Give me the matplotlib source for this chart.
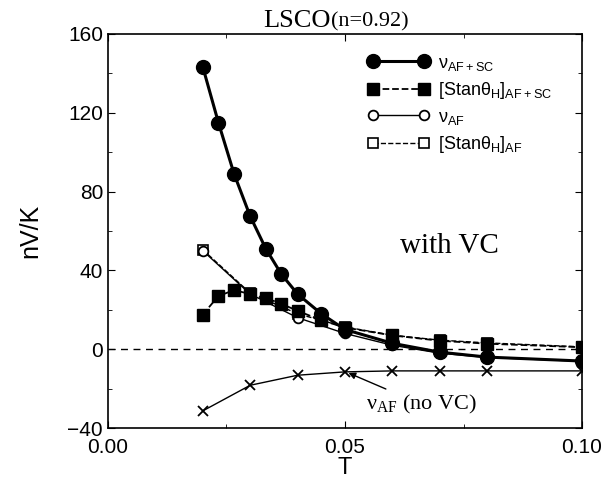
import numpy as np
import matplotlib
matplotlib.use("Agg")
import matplotlib.pyplot as plt
from matplotlib.ticker import MultipleLocator, FormatStrFormatter

plt.rcParams['font.family'] = ['Liberation Sans', 'DejaVu Sans']
plt.rcParams['mathtext.default'] = 'regular'

# data
T_sc = [0.020, 0.0233, 0.0266, 0.030, 0.0333, 0.0366, 0.040, 0.045, 0.05, 0.06, 0.07, 0.08, 0.10]
nu_af_sc = [143.3, 115, 89, 67.5, 51, 38, 28, 18, 10, 3, -1.5, -4, -6]
stan_af_sc = [17.6, 27, 30, 28, 26, 23, 19.5, 14.7, 11, 7, 4.3, 2.8, 1.0]

T_af = [0.02, 0.03, 0.04, 0.05, 0.06, 0.07, 0.08, 0.10]
nu_af = [50, 28, 16, 8, 2, -2, -4.2, -6.1]
stan_af = [50.5, 28.5, 18, 11.3, 7.1, 4.6, 3.2, 1.2]

T_novc = [0.02, 0.03, 0.04, 0.05, 0.06, 0.07, 0.08, 0.10]
nu_novc = [-31.3, -18.3, -13.2, -11.5, -11, -11, -11, -11]

fig = plt.figure(figsize=(6.09, 4.87), dpi=100)
ax = fig.add_axes([0.1773, 0.1211, 0.7784, 0.8091])

ax.axhline(0, color='black', lw=1.0, ls=(0, (5, 4)), zorder=1)

ax.plot(T_af, stan_af, ls='--', lw=1.0, color='black', marker='s', ms=6.5,
        mfc='white', mec='black', mew=1.2, label=r'$[Stan\theta_H]_{AF}$', zorder=2)
ax.plot(T_af, nu_af, ls='-', lw=1.0, color='black', marker='o', ms=7,
        mfc='white', mec='black', mew=1.3, label=r'$\nu_{AF}$', zorder=3)
ax.plot(T_sc, stan_af_sc, ls='--', lw=1.3, color='black', marker='s', ms=8.5,
        mfc='black', mec='black', label=r'$[Stan\theta_H]_{AF+SC}$', zorder=4)
ax.plot(T_sc, nu_af_sc, ls='-', lw=2.2, color='black', marker='o', ms=10,
        mfc='black', mec='black', label=r'$\nu_{AF+SC}$', zorder=5)
ax.plot(T_novc, nu_novc, ls='-', lw=1.0, color='black', marker='x', ms=7,
        mew=1.3, zorder=3)

ax.set_xlim(0, 0.1)
ax.set_ylim(-40, 160)
ax.xaxis.set_major_locator(MultipleLocator(0.05))
ax.xaxis.set_minor_locator(MultipleLocator(0.025))
ax.yaxis.set_major_locator(MultipleLocator(40))
ax.yaxis.set_minor_locator(MultipleLocator(20))
ax.xaxis.set_major_formatter(FormatStrFormatter('%.2f'))
ax.tick_params(which='both', direction='in', top=True, right=True, labelsize=15)
ax.tick_params(which='major', length=5)
ax.tick_params(which='minor', length=3)
ax.tick_params(axis='x', pad=7)
for s in ax.spines.values():
    s.set_linewidth(1.2)

ax.set_xlabel('T', fontsize=17, labelpad=0)
ax.set_ylabel('nV/K', fontsize=18, labelpad=18)

handles, labels = ax.get_legend_handles_labels()
order = [3, 2, 1, 0]
ax.legend([handles[i] for i in order], [labels[i] for i in order],
          loc='upper right', bbox_to_anchor=(0.965, 0.98), frameon=False,
          fontsize=13, handlelength=3.4, handletextpad=0.5, labelspacing=0.42,
          borderaxespad=0.3, numpoints=2)

ax.text(0.615, 0.445, 'with VC', transform=ax.transAxes, fontsize=21,
        family='Liberation Serif', va='baseline')
ax.annotate(r'$\nu_{AF}$ (no VC)', xy=(0.0502, -11.5), xytext=(0.0545, -28),
            fontsize=16, family='Liberation Serif', math_fontfamily='stix',
            va='center',
            arrowprops=dict(arrowstyle='-|>', color='black', lw=1.0,
                            shrinkA=2, shrinkB=2, mutation_scale=10))

ax.text(0.47, 1.018, 'LSCO', transform=ax.transAxes, fontsize=19,
        family='Liberation Serif', ha='right', va='baseline')
ax.text(0.47, 1.018, '(n=0.92)', transform=ax.transAxes, fontsize=16,
        family='Liberation Serif', ha='left', va='baseline')

fig.savefig('out.png', dpi=100)
